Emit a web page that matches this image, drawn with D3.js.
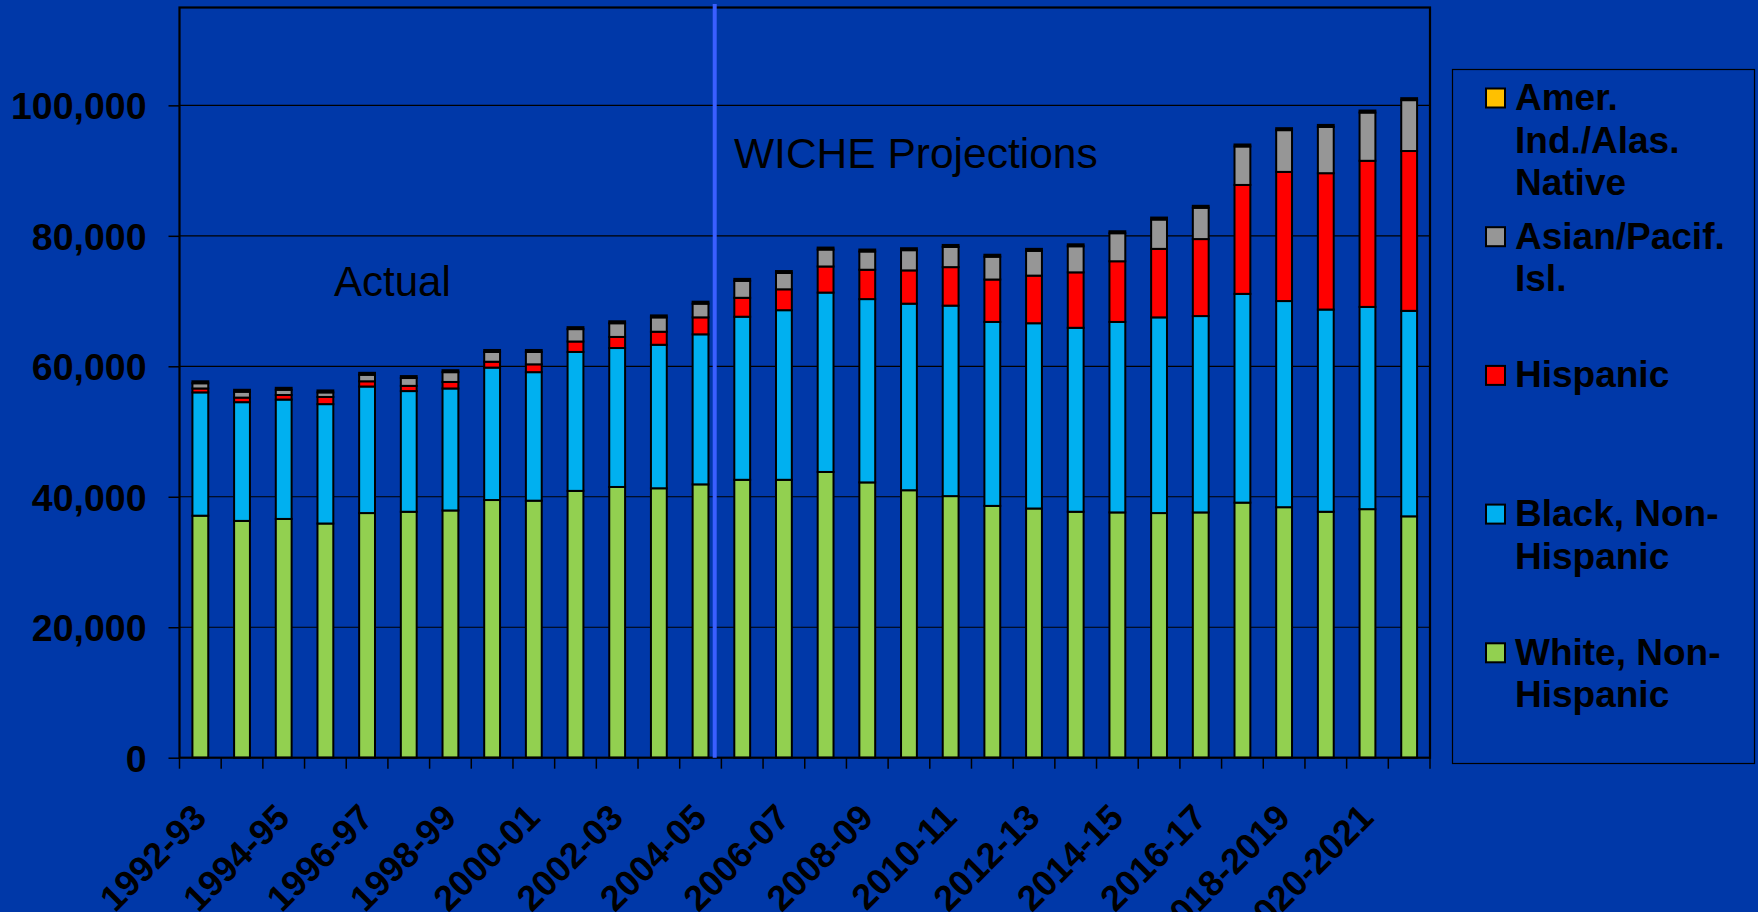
<!DOCTYPE html>
<html>
<head>
<meta charset="utf-8">
<script src="https://cdn.jsdelivr.net/npm/d3@7"></script>
<style>
  html, body { margin: 0; padding: 0; background: #0038a8; overflow: hidden; }
  svg { display: block; font-family: "Liberation Sans", Arial, sans-serif; }
</style>
</head>
<body>
<div id="chart"></div>
<script>
// school years (only every other one is labelled on the axis)
const years = ["1992-93","1993-94","1994-95","1995-96","1996-97","1997-98","1998-99","1999-00",
  "2000-01","2001-02","2002-03","2003-04","2004-05","2005-06","2006-07","2007-08","2008-09",
  "2009-10","2010-11","2011-12","2012-13","2013-14","2014-15","2015-16","2016-17","2017-18",
  "2018-2019","2019-2020","2020-2021","2021-2022"];

// graduates by group
const white    = [37100,36300,36600,35900,37500,37700,37900,39500,39400,40900,41500,41300,41900,
  42600,42600,43800,42200,41000,40100,38600,38200,37700,37600,37500,37600,39100,38400,37700,38100,37000];
const black    = [18900,18200,18300,18300,19400,18500,18700,20300,19700,21300,21300,22000,23000,
  25000,26000,27500,28100,28600,29200,28200,28400,28200,29200,30000,30100,32000,31600,31000,31000,31500];
const hispanic = [600,700,700,1100,800,800,1000,900,1200,1600,1700,2000,2600,
  2900,3200,4000,4500,5100,5900,6500,7300,8500,9300,10500,11800,16700,19800,20900,22400,24500];
const asian    = [800,900,800,700,1000,1200,1500,1500,1900,1900,2100,2200,2100,
  2600,2500,2600,2800,3100,3100,3500,3800,4000,4300,4500,4800,5900,6400,7100,7400,7800];
const amerInd  = [300,300,300,300,300,300,300,300,300,300,300,300,300,
  300,300,300,300,300,300,300,300,300,300,300,300,300,300,300,300,300];

const yTicks = [0, 20000, 40000, 60000, 80000, 100000];

const seriesInfo = [
  { key: "white",    color: "#92d050", label: ["White, Non-", "Hispanic"] },
  { key: "black",    color: "#00b0f0", label: ["Black, Non-", "Hispanic"] },
  { key: "hispanic", color: "#ff0000", label: ["Hispanic"] },
  { key: "asian",    color: "#969696", label: ["Asian/Pacif.", "Isl."] },
  { key: "amerInd",  color: "#ffc000", label: ["Amer.", "Ind./Alas.", "Native"] }
];

const rows = years.map((y, i) => ({
  year: y, white: white[i], black: black[i], hispanic: hispanic[i], asian: asian[i], amerInd: amerInd[i]
}));

const W = 1758, H = 912;
const plot = { left: 179.5, top: 7.5, right: 1430, bottom: 757.7 };

const svg = d3.select("#chart").append("svg").attr("width", W).attr("height", H);
svg.append("rect").attr("width", W).attr("height", H).attr("fill", "#0038a8");

const x = d3.scaleBand().domain(years).range([plot.left, plot.right])
  .paddingInner(0.62).paddingOuter(0.31);
const y = d3.scaleLinear().domain([0, 115000]).range([plot.bottom, plot.top]);

// gridlines
svg.append("g").selectAll("line").data(yTicks.slice(1)).enter().append("line")
  .attr("x1", plot.left).attr("x2", plot.right)
  .attr("y1", d => y(d)).attr("y2", d => y(d))
  .attr("stroke", "#000").attr("stroke-width", 1.2);

// y axis
const yAxis = svg.append("g").attr("transform", `translate(${plot.left},0)`)
  .call(d3.axisLeft(y).tickValues(yTicks).tickFormat(d3.format(",")).tickSize(11).tickPadding(22));
yAxis.select(".domain").remove();
yAxis.selectAll(".tick line").attr("stroke", "#000").attr("stroke-width", 1.5);
yAxis.selectAll(".tick text").attr("fill", "#000").style("font-size", "37.5px").style("font-weight", "bold")
  .attr("dy", "0.36em");

// stacked bars
const stack = d3.stack().keys(seriesInfo.map(s => s.key));
const layers = stack(rows);
svg.append("g").selectAll("g").data(layers).enter().append("g")
  .attr("fill", (d, i) => seriesInfo[i].color)
  .selectAll("rect").data(d => d).enter().append("rect")
  .attr("x", d => x(d.data.year))
  .attr("width", x.bandwidth())
  .attr("y", d => y(d[1]))
  .attr("height", d => y(d[0]) - y(d[1]))
  .attr("stroke", "#000").attr("stroke-width", 2);

// frame of the plot area
svg.append("rect")
  .attr("x", plot.left).attr("y", plot.top)
  .attr("width", plot.right - plot.left).attr("height", plot.bottom - plot.top)
  .attr("fill", "none").attr("stroke", "#000").attr("stroke-width", 2.2);

// x axis ticks at category boundaries
const half = (x.step() - x.bandwidth()) / 2;
const edges = years.map(d => x(d) - half).concat([plot.right]);
svg.append("g").selectAll("line").data(edges).enter().append("line")
  .attr("x1", d => d).attr("x2", d => d)
  .attr("y1", plot.bottom).attr("y2", plot.bottom + 11)
  .attr("stroke", "#000").attr("stroke-width", 1.5);

// x labels, every other year
svg.append("g").selectAll("text").data(years.filter((d, i) => i % 2 === 0)).enter().append("text")
  .attr("transform", d => `translate(${x(d) + x.bandwidth() / 2 + 8},${plot.bottom + 62}) rotate(-45)`)
  .attr("text-anchor", "end")
  .style("font-size", "36px").style("font-weight", "bold").attr("fill", "#000")
  .text(d => d);

// divider between actual and projected
const xLine = x(years[12]) + x.bandwidth() + x.step() * 0.15;
svg.append("line").attr("x1", xLine).attr("x2", xLine).attr("y1", 4).attr("y2", plot.bottom)
  .attr("stroke", "#3a5fff").attr("stroke-width", 4);

svg.append("text").attr("x", 334).attr("y", 296).style("font-size", "42px").attr("fill", "#000").text("Actual");
svg.append("text").attr("x", 734).attr("y", 168).style("font-size", "42.5px").attr("fill", "#000").text("WICHE Projections");

// legend
svg.append("rect").attr("x", 1452.5).attr("y", 69.5).attr("width", 302).attr("height", 694)
  .attr("fill", "none").attr("stroke", "#000").attr("stroke-width", 1.2);
const legendItems = seriesInfo.slice().reverse();
const lg = svg.append("g").selectAll("g").data(legendItems).enter().append("g")
  .attr("transform", (d, i) => `translate(0,${98 + i * 138.7})`);
lg.append("rect").attr("x", 1486).attr("y", -9.5).attr("width", 19).attr("height", 19)
  .attr("fill", d => d.color).attr("stroke", "#000").attr("stroke-width", 2);
lg.append("text").attr("x", 1515).attr("y", 12)
  .style("font-size", "37px").style("font-weight", "bold").attr("fill", "#000")
  .selectAll("tspan").data(d => d.label).enter().append("tspan")
  .attr("x", 1515).attr("dy", (d, i) => i === 0 ? 0 : 42.5).text(d => d);
</script>
</body>
</html>
